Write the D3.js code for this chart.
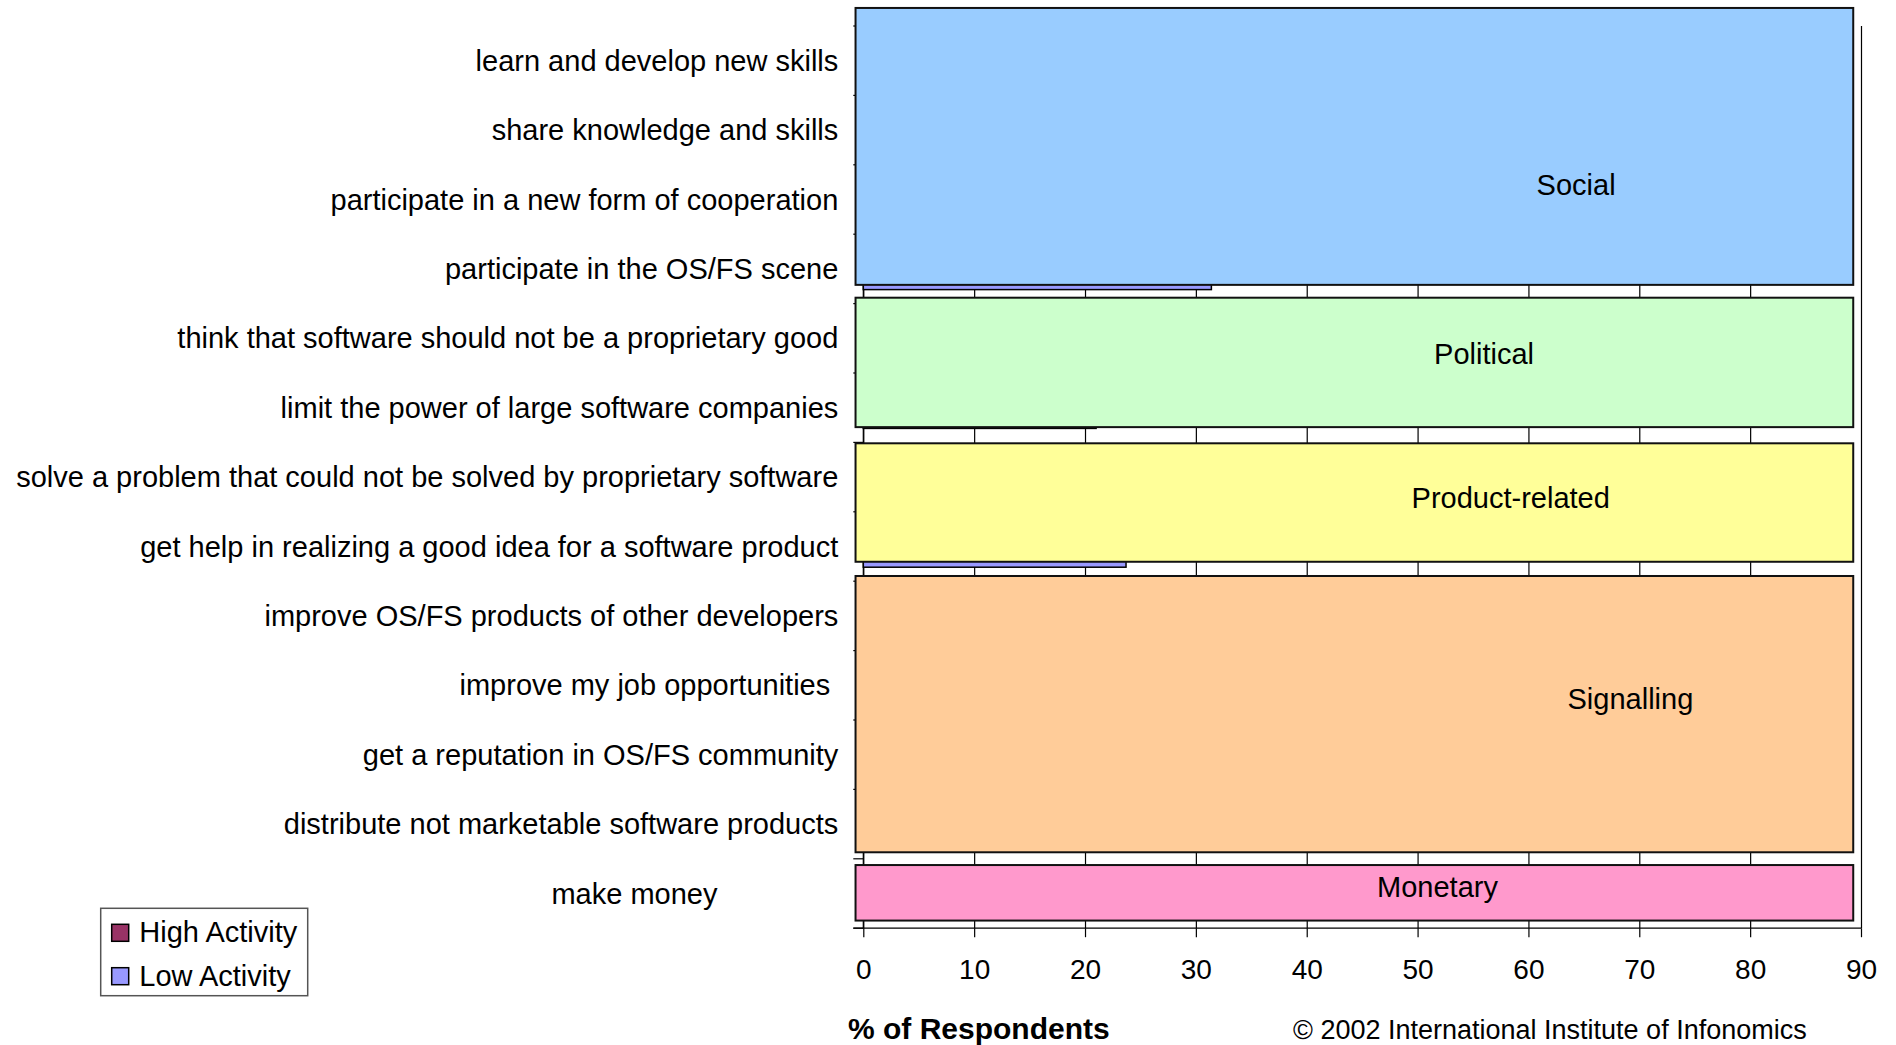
<!DOCTYPE html>
<html>
<head>
<meta charset="utf-8">
<title>Reasons to join the OS/FS community</title>
<script src="https://cdn.jsdelivr.net/npm/d3@7"></script>
<style>
    body { margin: 0; background: #fff; }
    text { font-family: Arial, "Liberation Sans", sans-serif; fill: #000; }
</style>
</head>
<body>
<script>
//wrap everything in a self-executing anonymous function to move to local scope
(function(){

//reasons, top to bottom (trailing spaces are part of the original labels)
var reasons = [
    "learn and develop new skills",
    "share knowledge and skills",
    "participate in a new form of cooperation",
    "participate in the OS/FS scene",
    "think that software should not be a proprietary good",
    "limit the power of large software companies",
    "solve a problem that could not be solved by proprietary software",
    "get help in realizing a good idea for a software product",
    "improve OS/FS products of other developers",
    "improve my job opportunities\u00a0",
    "get a reputation in OS/FS community",
    "distribute not marketable software products",
    "make money\u00a0\u00a0\u00a0\u00a0\u00a0\u00a0\u00a0\u00a0\u00a0\u00a0\u00a0\u00a0\u00a0\u00a0\u00a0"
];

//% of respondents (most bars sit behind the group boxes, so those are estimates)
var highActivity = [79, 52, 38, 34, 40, 30, 31, 25, 36, 25, 10, 10, 14];
var lowActivity  = [78, 48, 32, 31.4, 36, 21, 28, 23.7, 32, 23, 8, 9, 11];

var seriesNames = ["High Activity", "Low Activity"];
var xTicks = [0, 10, 20, 30, 40, 50, 60, 70, 80, 90];

//motive groups and the first / last reason row each one covers
var groupNames = ["Social", "Political", "Product-related", "Signalling", "Monetary"];
var groupFirstRow = [0, 4, 6, 8, 12];
var groupLastRow  = [3, 5, 7, 11, 12];

window.onload = setChart();

function setChart(){

    //frame dimensions
    var width = 1896,
        height = 1045;

    var svg = d3.select("body")
        .append("svg")
        .attr("width", width)
        .attr("height", height);

    //plot area
    var left = 863.3, right = 1861,
        top = 26, bottom = 928.2;

    var x = d3.scaleLinear()
        .domain([0, 90])
        .range([left, right]);

    //one band per reason row
    var y = d3.scaleBand()
        .domain(reasons)
        .range([top, bottom]);

    //row position in row units, used for the hand drawn group boxes
    var yRow = d3.scaleLinear()
        .domain([0, reasons.length])
        .range([top, bottom]);

    //two bars inside each row
    var ySub = d3.scaleBand()
        .domain(seriesNames)
        .range([14, y.bandwidth() - 14]);

    var seriesColors = d3.scaleOrdinal()
        .domain(seriesNames)
        .range(["#993366", "#9999ff"]);

    //vertical gridlines
    svg.append("g")
        .attr("transform", "translate(0," + top + ")")
        .call(d3.axisBottom(x).tickValues(xTicks).tickSize(bottom - top).tickFormat(""))
        .call(function(g){
            g.select(".domain").remove();
            g.selectAll("line").attr("stroke", "#000").attr("stroke-width", 1.2);
        });

    //bars
    var rows = reasons.map(function(r, i){
        return {reason: r, values: [highActivity[i], lowActivity[i]]};
    });

    svg.selectAll(".row")
        .data(rows)
        .enter()
        .append("g")
        .attr("class", "row")
        .attr("transform", function(d){ return "translate(0," + y(d.reason) + ")"; })
        .selectAll("rect")
        .data(function(d){
            return seriesNames.map(function(s, j){ return {series: s, value: d.values[j]}; });
        })
        .enter()
        .append("rect")
        .attr("x", x(0))
        .attr("y", function(d){ return ySub(d.series); })
        .attr("width", function(d){ return x(d.value) - x(0); })
        .attr("height", ySub.bandwidth())
        .attr("fill", function(d){ return seriesColors(d.series); })
        .attr("stroke", "#000")
        .attr("stroke-width", 1.5);

    //x axis
    svg.append("g")
        .attr("transform", "translate(0," + bottom + ")")
        .call(d3.axisBottom(x).tickValues(xTicks).tickSize(9).tickPadding(22))
        .call(function(g){
            g.select(".domain").attr("d", "M" + (left - 10) + ",0H" + right).attr("stroke", "#000").attr("stroke-width", 1.2);
            g.selectAll("line").attr("stroke", "#000").attr("stroke-width", 1.2);
            g.selectAll("text")
                .attr("font-family", "Arial, 'Liberation Sans', sans-serif")
                .attr("font-size", 28)
                .attr("fill", "#000");
        });

    //y axis line and ticks on row boundaries
    svg.append("line")
        .attr("x1", x(0)).attr("x2", x(0))
        .attr("y1", top).attr("y2", bottom)
        .attr("stroke", "#000").attr("stroke-width", 1.2);

    svg.selectAll(".ytick")
        .data(d3.range(reasons.length + 1))
        .enter()
        .append("line")
        .attr("class", "ytick")
        .attr("x1", x(0) - 10).attr("x2", x(0))
        .attr("y1", function(d){ return yRow(d); })
        .attr("y2", function(d){ return yRow(d); })
        .attr("stroke", "#000").attr("stroke-width", 1.2);

    //group boxes drawn over the bars (row offsets follow the original drawing)
    var groupColors = ["#99ccff", "#ccffcc", "#ffff99", "#ffcc99", "#ff99cc"];
    var boxTop    = [-0.26, -0.085, 0.013, -0.075, 0.09];
    var boxBottom = [-0.27, -0.22, -0.28, -0.094, -0.11];
    var labelPct  = [64.3, 56.0, 58.4, 69.2, 51.8];
    var labelRow  = [2.29, 4.73, 6.80, 9.70, 12.41];

    var groups = groupNames.map(function(name, i){
        return {
            name: name,
            color: groupColors[i],
            start: groupFirstRow[i] + boxTop[i],
            end: groupLastRow[i] + 1 + boxBottom[i],
            lx: labelPct[i],
            ly: labelRow[i]
        };
    });

    svg.selectAll(".groupBox")
        .data(groups)
        .enter()
        .append("rect")
        .attr("class", "groupBox")
        .attr("x", x(-0.7))
        .attr("width", x(89.3) - x(-0.7))
        .attr("y", function(d){ return yRow(d.start); })
        .attr("height", function(d){ return yRow(d.end) - yRow(d.start); })
        .attr("fill", function(d){ return d.color; })
        .attr("stroke", "#111")
        .attr("stroke-width", 2);

    svg.selectAll(".groupLabel")
        .data(groups)
        .enter()
        .append("text")
        .attr("class", "groupLabel")
        .attr("x", function(d){ return x(d.lx); })
        .attr("y", function(d){ return yRow(d.ly); })
        .attr("text-anchor", "middle")
        .attr("dominant-baseline", "central")
        .attr("font-size", 29)
        .text(function(d){ return d.name; });

    //reason labels
    svg.selectAll(".reasonLabel")
        .data(reasons)
        .enter()
        .append("text")
        .attr("class", "reasonLabel")
        .attr("x", x(0) - 25)
        .attr("y", function(d){ return y(d) + y.bandwidth() / 2; })
        .attr("text-anchor", "end")
        .attr("dominant-baseline", "central")
        .attr("font-size", 29)
        .text(function(d){ return d; });

    //axis title and credit line
    svg.append("text")
        .attr("x", 848)
        .attr("y", 1039)
        .attr("font-size", 30)
        .attr("font-weight", "bold")
        .text("% of Respondents");

    svg.append("text")
        .attr("x", 1293)
        .attr("y", 1039)
        .attr("font-size", 27)
        .text("\u00a9 2002 International Institute of Infonomics");

    //legend
    var legend = svg.append("g")
        .attr("transform", "translate(100.7,908.3)");

    legend.append("rect")
        .attr("width", 207)
        .attr("height", 87.4)
        .attr("fill", "#fff")
        .attr("stroke", "#555")
        .attr("stroke-width", 1.5);

    var items = legend.selectAll(".legendItem")
        .data(seriesNames)
        .enter()
        .append("g")
        .attr("class", "legendItem")
        .attr("transform", function(d, i){ return "translate(11," + (16 + i * 43.4) + ")"; });

    items.append("rect")
        .attr("width", 17)
        .attr("height", 17)
        .attr("fill", function(d){ return seriesColors(d); })
        .attr("stroke", "#000")
        .attr("stroke-width", 1.5);

    items.append("text")
        .attr("x", 27.6)
        .attr("y", 18)
        .attr("font-size", 29)
        .text(function(d){ return d; });
}

})();
</script>
</body>
</html>
